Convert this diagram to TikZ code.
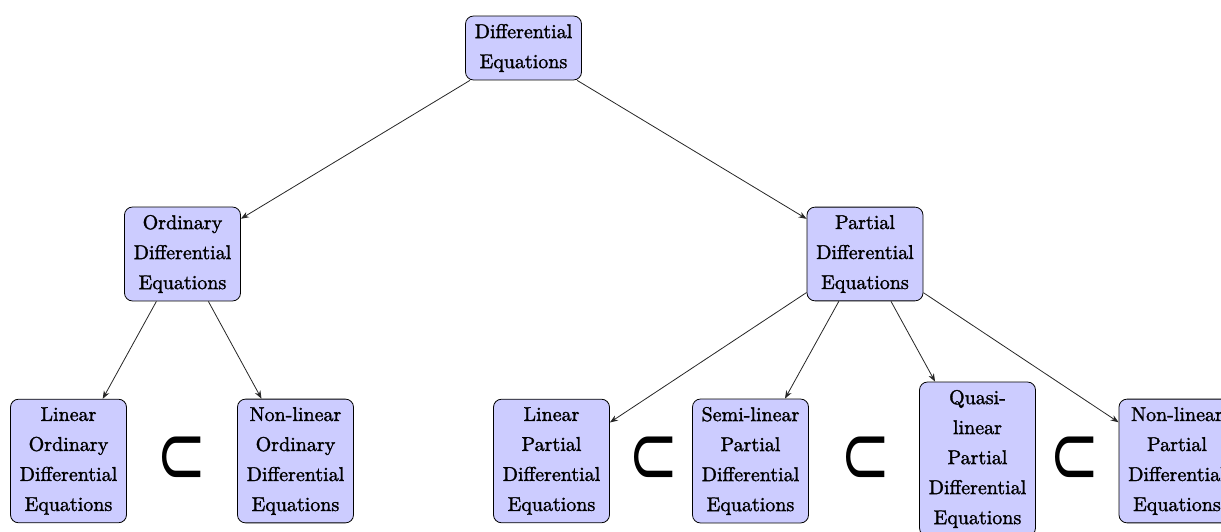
\documentclass[tikz,border=0pt]{standalone}
\usepackage{fontspec}
\usepackage{tikz}
\usetikzlibrary{arrows.meta}
\newfontfamily\subsetfont{DejaVu Sans}
\newfontfamily\boxfont{Latin Modern Roman}[FakeBold=1.5]

\begin{document}
\begin{tikzpicture}[x=0.5pt, y=0.5pt,
  box/.style={draw, fill=blue!20, rounded corners=4pt, align=center,
    text width=50pt, inner sep=4pt, font=\boxfont\fontsize{10}{15}\selectfont},
  sub/.style={font=\subsetfont\fontsize{30}{30}\selectfont, inner sep=0pt},
  link/.style={-{Stealth[length=4pt, width=3pt]}, black!85}]
\useasboundingbox (0,0) rectangle (1221,531);
% top level
\node[box] (de)    at (523.5,483) {Differential Equations};
% second level
\node[box] (ode)   at (182.5,277) {Ordinary Differential Equations};
\node[box] (pde)   at (865,277)   {Partial Differential Equations};
% leaves
\node[box] (lode)  at (68.5,70)   {Linear Ordinary Differential Equations};
\node[box] (nlode) at (295.5,70)  {Non-linear Ordinary Differential Equations};
\node[box] (lpde)  at (551.5,70)  {Linear Partial Differential Equations};
\node[box] (slpde) at (750.5,70)  {Semi-linear Partial Differential Equations};
\node[box] (qlpde) at (977.5,72)  {Quasi-linear Partial Differential Equations};
\node[box] (nlpde) at (1177,70)   {Non-linear Partial Differential Equations};
% inclusions
\node[sub] (s1) at (182,70)  {\scalebox{1}[1.45]{⊂}};
\node[sub] (s2) at (654,70)  {\scalebox{1}[1.45]{⊂}};
\node[sub] (s3) at (866,70)  {\scalebox{1}[1.45]{⊂}};
\node[sub] (s4) at (1075,70) {\scalebox{1}[1.45]{⊂}};
% edges
\draw[link] (de) -- (ode);
\draw[link] (de) -- (pde);
\draw[link] (ode) -- (lode);
\draw[link] (ode) -- (nlode);
\foreach \t in {lpde, slpde, qlpde, nlpde}
  \draw[link] (pde) -- (\t);
\end{tikzpicture}
\end{document}
